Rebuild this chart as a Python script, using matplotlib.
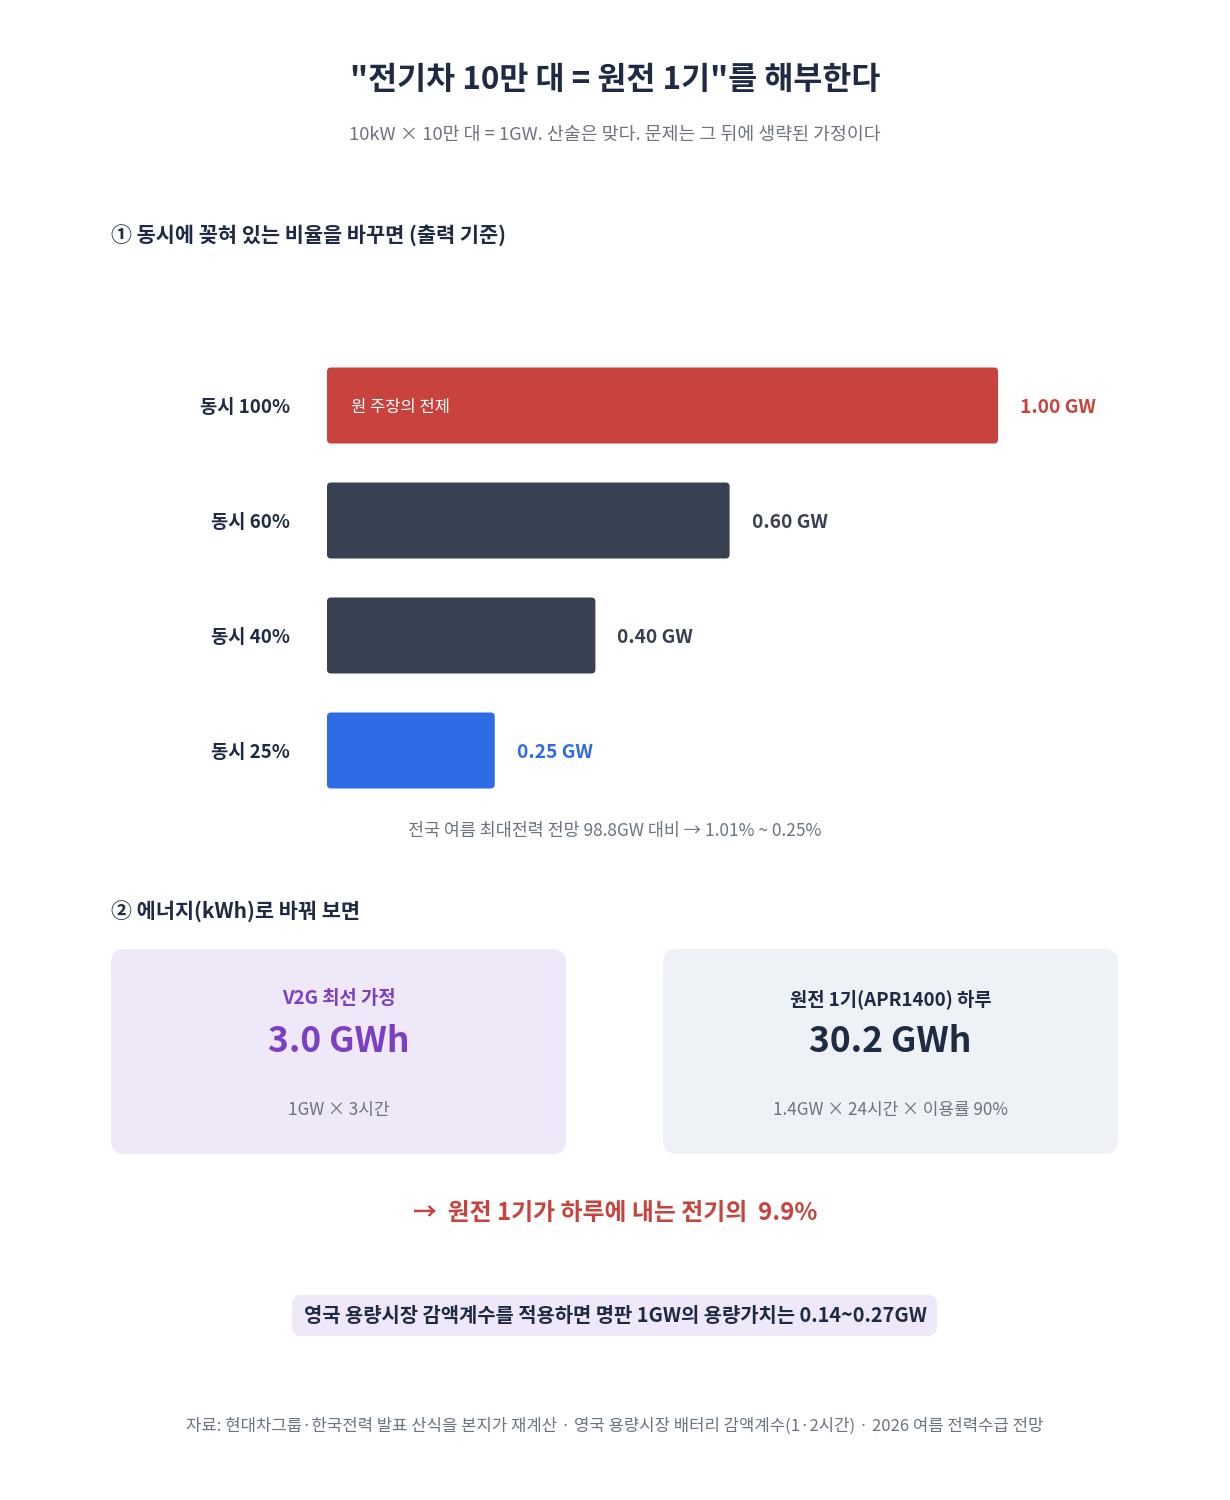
import matplotlib
matplotlib.use("Agg")
import matplotlib.pyplot as plt
from matplotlib.patches import FancyBboxPatch

plt.rcParams['font.family'] = ['Noto Sans CJK KR', 'DejaVu Sans']

# data
labels = ["동시 100%", "동시 60%", "동시 40%", "동시 25%"]
values = [1.00, 0.60, 0.40, 0.25]
bar_colors = ["#C8433D", "#384152", "#384152", "#2E6BE6"]
value_colors = ["#C8433D", "#384152", "#384152", "#2E6BE6"]
peak_demand = 98.8  # GW

card_titles = ["V2G 최선 가정", "원전 1기(APR1400) 하루"]
card_values = ["3.0 GWh", "30.2 GWh"]
card_notes = ["1GW × 3시간", "1.4GW × 24시간 × 이용률 90%"]
card_bg = ["#EFE8F8", "#EEF1F6"]
card_fg = ["#7B3FC4", "#1F2A44"]
ratio = "9.9%"

NAVY = "#1F2A44"
GRAY = "#6B7280"

W, H = 1230, 1500
fig = plt.figure(figsize=(W / 100, H / 100), dpi=100)
fig.patch.set_facecolor("white")

# page overlay in pixel coords
bg = fig.add_axes([0, 0, 1, 1])
bg.set_xlim(0, W)
bg.set_ylim(H, 0)
bg.axis("off")

bg.text(615, 80, '"전기차 10만 대 = 원전 1기"를 해부한다', ha="center", va="center",
        fontsize=22.7, fontweight="bold", color=NAVY)
bg.text(615, 135, "10kW × 10만 대 = 1GW. 산술은 맞다. 문제는 그 뒤에 생략된 가정이다",
        ha="center", va="center", fontsize=13.2, color=GRAY)
bg.text(111, 236, "① 동시에 꽂혀 있는 비율을 바꾸면 (출력 기준)", ha="left", va="center",
        fontsize=15, fontweight="bold", color=NAVY)

# bar chart
x0, x1 = 327, 998
top, slot = 348, 115
ax = fig.add_axes([x0 / W, 1 - (top + slot * len(values)) / H,
                   (x1 - x0) / W, slot * len(values) / H])
ax.set_xlim(0, 1.0)
ax.set_ylim(len(values) - 0.5, -0.5)
ax.axis("off")
bh = 76 / slot
aspect = (1 / slot) / (1 / (x1 - x0))
for i, (lab, v, c, vc) in enumerate(zip(labels, values, bar_colors, value_colors)):
    p = FancyBboxPatch((0, i - bh / 2), v, bh,
                       boxstyle="round,pad=0,rounding_size=0.006",
                       mutation_aspect=aspect, fc=c, ec="none", clip_on=False)
    ax.add_patch(p)
    ax.text(-37 / (x1 - x0), i + 0.015, lab, ha="right", va="center", fontsize=13.5,
            fontweight="bold", color=NAVY)
    ax.text(v + 22 / (x1 - x0), i + 0.015, f"{v:.2f} GW", ha="left", va="center",
            fontsize=13.8, fontweight="bold", color=vc, clip_on=False)
ax.text(24 / (x1 - x0), 0.015, "원 주장의 전제", ha="left", va="center",
        fontsize=11.9, color="white")

lo = values[-1] / peak_demand * 100
hi = values[0] / peak_demand * 100
bg.text(615, 831, f"전국 여름 최대전력 전망 {peak_demand}GW 대비 → {hi:.2f}% ~ {lo:.2f}%",
        ha="center", va="center", fontsize=12.5, color=GRAY)

bg.text(111, 912, "② 에너지(kWh)로 바꿔 보면", ha="left", va="center",
        fontsize=15, fontweight="bold", color=NAVY)

# cards
for k, cx in enumerate([111, 663]):
    w, h, cy = 455, 205, 949
    bg.add_patch(FancyBboxPatch((cx, cy), w, h, boxstyle="round,pad=0,rounding_size=14",
                                fc=card_bg[k], ec="none"))
    mid = cx + w / 2
    bg.text(mid, 999, card_titles[k], ha="center", va="center", fontsize=13.5,
            fontweight="bold", color=card_fg[k])
    bg.text(mid, 1042, card_values[k], ha="center", va="center", fontsize=25.5,
            fontweight="bold", color=card_fg[k])
    bg.text(mid, 1110, card_notes[k], ha="center", va="center", fontsize=12.25,
            color=GRAY)

bg.text(615, 1213, f"→  원전 1기가 하루에 내는 전기의  {ratio}", ha="center", va="center",
        fontsize=17.2, fontweight="bold", color="#C8433D")

bg.add_patch(FancyBboxPatch((292, 1295), 645, 41, boxstyle="round,pad=0,rounding_size=9",
                            fc="#EFE8F8", ec="none"))
bg.text(615, 1316, "영국 용량시장 감액계수를 적용하면 명판 1GW의 용량가치는 0.14~0.27GW",
        ha="center", va="center", fontsize=14.3, fontweight="bold", color=NAVY)

bg.text(615, 1426, "자료: 현대차그룹·한국전력 발표 산식을 본지가 재계산 · 영국 용량시장 배터리 감액계수(1·2시간) · 2026 여름 전력수급 전망",
        ha="center", va="center", fontsize=12, color=GRAY)

fig.savefig("out.png", dpi=100, facecolor="white")
